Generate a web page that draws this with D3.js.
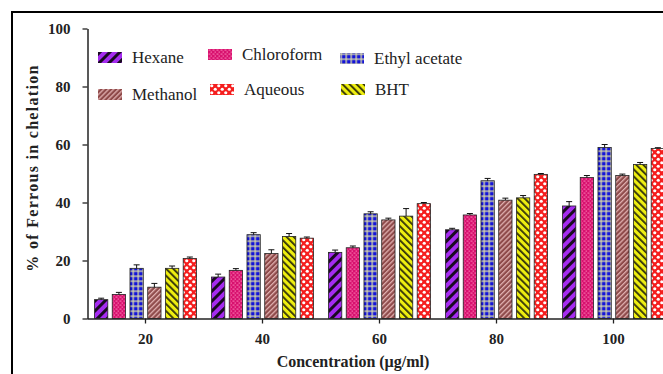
<!DOCTYPE html>
<html>
<head>
<meta charset="utf-8">
<script src="https://cdn.jsdelivr.net/npm/d3@7"></script>
<style>
  html, body { margin: 0; padding: 0; background: #fff; }
  svg { display: block; }
  svg text { font-family: "Liberation Serif", "DejaVu Serif", "Times New Roman", serif !important; }
</style>
</head>
<body>
<svg id="chart" width="663" height="374"></svg>
<script>
const concentrations = ["20", "40", "60", "80", "100"];
const solvents = ["Hexane", "Chloroform", "Ethyl acetate", "Methanol", "BHT", "Aqueous"];

// % chelation per concentration, in solvent order above
const hexane     = [6.5, 14.3, 22.8, 30.6, 38.8];
const chloroform = [8.3, 16.6, 24.4, 35.7, 48.6];
const ethyl      = [17.3, 28.9, 36.1, 47.5, 59.0];
const methanol   = [10.8, 22.4, 34.0, 40.8, 49.3];
const bht        = [17.3, 28.3, 35.3, 41.6, 53.1];
const aqueous    = [20.7, 27.7, 39.6, 49.7, 58.6];

const hexaneErr     = [0.5, 1.0, 0.8, 0.5, 1.5];
const chloroformErr = [0.7, 0.6, 0.6, 0.5, 0.7];
const ethylErr      = [1.2, 0.7, 0.7, 0.8, 1.0];
const methanolErr   = [1.3, 1.3, 0.6, 0.7, 0.5];
const bhtErr        = [0.8, 1.0, 2.6, 0.8, 0.7];
const aqueousErr    = [0.5, 0.4, 0.4, 0.3, 0.3];

const yTicks = [0, 20, 40, 60, 80, 100];

const seriesValues = {
    "Hexane": hexane, "Chloroform": chloroform, "Ethyl acetate": ethyl,
    "Methanol": methanol, "BHT": bht, "Aqueous": aqueous
};
const seriesErr = {
    "Hexane": hexaneErr, "Chloroform": chloroformErr, "Ethyl acetate": ethylErr,
    "Methanol": methanolErr, "BHT": bhtErr, "Aqueous": aqueousErr
};
const patternId = {
    "Hexane": "p-hex", "Chloroform": "p-chl", "Ethyl acetate": "p-eth",
    "Methanol": "p-met", "BHT": "p-bht", "Aqueous": "p-aq"
};

const FONT = "Liberation Serif, DejaVu Serif, serif";

const svg = d3.select("#chart");
const defs = svg.append("defs");

// hexane: purple with black "/" stripes
let p = defs.append("pattern").attr("id", "p-hex").attr("patternUnits", "userSpaceOnUse")
    .attr("width", 7).attr("height", 7).attr("patternTransform", "rotate(45)");
p.append("rect").attr("width", 7).attr("height", 7).attr("fill", "#a52bf0");
p.append("rect").attr("width", 3).attr("height", 7).attr("fill", "#1a0a22");

// chloroform: magenta with small lighter brick dots
p = defs.append("pattern").attr("id", "p-chl").attr("patternUnits", "userSpaceOnUse")
    .attr("width", 4).attr("height", 4);
p.append("rect").attr("width", 4).attr("height", 4).attr("fill", "#d8126f");
p.append("rect").attr("x", 0.5).attr("y", 0.5).attr("width", 2).attr("height", 1.2).attr("fill", "#f56aa8");
p.append("rect").attr("x", 2.5).attr("y", 2.5).attr("width", 1.5).attr("height", 1.2).attr("fill", "#f56aa8");

// ethyl acetate: blue with pale grid
p = defs.append("pattern").attr("id", "p-eth").attr("patternUnits", "userSpaceOnUse")
    .attr("x", 0.5).attr("y", 0.5)
    .attr("width", 5).attr("height", 5);
p.append("rect").attr("width", 5).attr("height", 5).attr("fill", "#1414d8");
p.append("rect").attr("width", 5).attr("height", 1.3).attr("fill", "#dcdca8");
p.append("rect").attr("width", 1.3).attr("height", 5).attr("fill", "#dcdca8");

// methanol: brownish rose with light thin "/" lines
p = defs.append("pattern").attr("id", "p-met").attr("patternUnits", "userSpaceOnUse")
    .attr("width", 3.5).attr("height", 3.5).attr("patternTransform", "rotate(45)");
p.append("rect").attr("width", 3.5).attr("height", 3.5).attr("fill", "#8e4a4a");
p.append("rect").attr("width", 1.3).attr("height", 3.5).attr("fill", "#e0b0b0");

// BHT: yellow with dark "\" stripes
p = defs.append("pattern").attr("id", "p-bht").attr("patternUnits", "userSpaceOnUse")
    .attr("width", 5).attr("height", 5).attr("patternTransform", "rotate(-45)");
p.append("rect").attr("width", 5).attr("height", 5).attr("fill", "#eeee10");
p.append("rect").attr("width", 1.8).attr("height", 5).attr("fill", "#30300a");

// aqueous: red with white circles
p = defs.append("pattern").attr("id", "p-aq").attr("patternUnits", "userSpaceOnUse")
    .attr("width", 7).attr("height", 7);
p.append("rect").attr("width", 7).attr("height", 7).attr("fill", "#f51e1e");
p.append("circle").attr("cx", 1.75).attr("cy", 1.75).attr("r", 1.6).attr("fill", "#fff");
p.append("circle").attr("cx", 5.25).attr("cy", 5.25).attr("r", 1.6).attr("fill", "#fff");

// outer frame (cut by the picture edge on right and bottom)
svg.append("rect")
    .attr("x", 12).attr("y", 12).attr("width", 700).attr("height", 400)
    .attr("fill", "none").attr("stroke", "#000").attr("stroke-width", 2);

const x0 = d3.scaleBand().domain(concentrations).range([87, 672]);
const x1 = d3.scaleBand().domain(solvents).range([7.5, 109.5]).paddingInner(0.25);
const y = d3.scaleLinear().domain([0, 100]).range([318.5, 28.5]);

// bars
const groups = svg.append("g")
    .selectAll("g")
    .data(concentrations)
    .enter().append("g")
    .attr("transform", d => `translate(${x0(d)},0)`);

groups.selectAll("rect")
    .data((c, i) => solvents.map(s => ({ s, v: seriesValues[s][i], e: seriesErr[s][i] })))
    .enter().append("rect")
    .attr("x", d => x1(d.s))
    .attr("y", d => y(d.v))
    .attr("width", x1.bandwidth())
    .attr("height", d => y(0) - y(d.v))
    .attr("fill", d => `url(#${patternId[d.s]})`)
    .attr("stroke", "#222")
    .attr("stroke-width", 0.8);

// error bars
const errs = groups.selectAll("g.err")
    .data((c, i) => solvents.map(s => ({ s, v: seriesValues[s][i], e: seriesErr[s][i] })))
    .enter().append("g").attr("class", "err");
errs.append("line")
    .attr("x1", d => x1(d.s) + x1.bandwidth() / 2)
    .attr("x2", d => x1(d.s) + x1.bandwidth() / 2)
    .attr("y1", d => y(d.v))
    .attr("y2", d => y(d.v + d.e))
    .attr("stroke", "#111").attr("stroke-width", 1);
errs.append("line")
    .attr("x1", d => x1(d.s) + x1.bandwidth() / 2 - 3)
    .attr("x2", d => x1(d.s) + x1.bandwidth() / 2 + 3)
    .attr("y1", d => y(d.v + d.e))
    .attr("y2", d => y(d.v + d.e))
    .attr("stroke", "#111").attr("stroke-width", 1);

// y axis
const yAxis = svg.append("g")
    .attr("transform", "translate(87.5,0)")
    .call(d3.axisLeft(y).tickValues(yTicks).tickSize(5).tickPadding(12).tickSizeOuter(0));
yAxis.attr("font-family", FONT);
yAxis.select(".domain").attr("stroke", "#222").attr("stroke-width", 1.5);
yAxis.selectAll(".tick line").attr("stroke", "#222").attr("stroke-width", 1.3);
yAxis.selectAll(".tick text")
    .attr("font-family", FONT)
    .attr("font-weight", "bold").attr("font-size", 15).attr("fill", "#222");

// x axis
const xAxis = svg.append("g")
    .attr("transform", "translate(0,318.5)")
    .call(d3.axisBottom(x0).tickSize(5).tickPadding(10).tickSizeOuter(0));
xAxis.attr("font-family", FONT);
xAxis.select(".domain").attr("stroke", "#222").attr("stroke-width", 1.5);
xAxis.selectAll(".tick line").attr("stroke", "#222").attr("stroke-width", 1.3);
xAxis.selectAll(".tick text")
    .attr("font-family", FONT)
    .attr("font-weight", "bold").attr("font-size", 15).attr("fill", "#222");

// axis titles
svg.append("text")
    .attr("x", 353).attr("y", 367)
    .attr("text-anchor", "middle")
    .attr("font-family", FONT)
    .attr("font-weight", "bold").attr("font-size", 16).attr("fill", "#222")
    .text("Concentration (µg/ml)");

svg.append("text")
    .attr("transform", "translate(38,168) rotate(-90)")
    .attr("text-anchor", "middle")
    .attr("font-family", FONT)
    .attr("font-weight", "bold").attr("font-size", 16).attr("letter-spacing", 1.3).attr("fill", "#222")
    .text("% of Ferrous in chelation");

// legend
const legendItems = ["Hexane", "Chloroform", "Ethyl acetate", "Methanol", "Aqueous", "BHT"];
const legendX = [98, 208, 340, 98, 210, 341];
const legendY = [52, 49, 53, 89, 84, 84];
const legend = svg.append("g")
    .selectAll("g")
    .data(legendItems)
    .enter().append("g")
    .attr("transform", (d, i) => `translate(${legendX[i]},${legendY[i]})`);
legend.append("rect")
    .attr("width", 24).attr("height", 11)
    .attr("fill", d => `url(#${patternId[d]})`);
legend.append("text")
    .attr("x", 34).attr("y", 11)
    .attr("font-family", FONT)
    .attr("font-size", 17).attr("fill", "#222")
    .text(d => d);
</script>
</body>
</html>
